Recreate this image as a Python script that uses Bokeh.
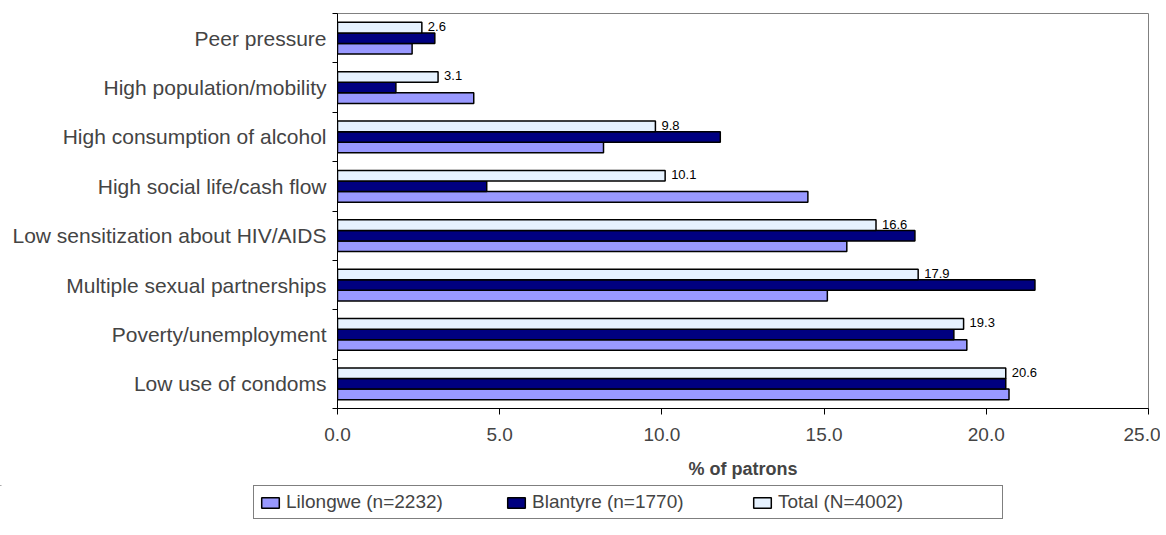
import numpy as np
from bokeh.plotting import figure
from bokeh.layouts import column
from bokeh.models import ColumnDataSource, FixedTicker, NumeralTickFormatter, Range1d, Legend, LegendItem
from bokeh.core.properties import value
from bokeh.embed import file_html
from bokeh.resources import INLINE

# Categories from bottom to top
categories = [
    "Low use of condoms",
    "Poverty/unemployment",
    "Multiple sexual partnerships",
    "Low sensitization about HIV/AIDS",
    "High social life/cash flow",
    "High consumption of alcohol",
    "High population/mobility",
    "Peer pressure",
]
lilongwe = [20.7, 19.4, 15.1, 15.7, 14.5, 8.2, 4.2, 2.3]
blantyre = [20.6, 19.0, 21.5, 17.8, 4.6, 11.8, 1.8, 3.0]
total = [20.6, 19.3, 17.9, 16.6, 10.1, 9.8, 3.1, 2.6]
series_names = ["Lilongwe (n=2232)", "Blantyre (n=1770)", "Total (N=4002)"]
x_ticks = [0, 5, 10, 15, 20, 25]

FONT = "Liberation Sans"
colors = ["#9999FF", "#000080", "#E6F2FF"]

n = len(categories)
centers = np.arange(n) + 0.5
bar_h = 0.215
offsets = [-bar_h, 0.0, bar_h]

p = figure(width=1160, height=485, output_backend="svg", toolbar_location=None,
           x_range=Range1d(0, 25), y_range=Range1d(0, n),
           min_border_left=337, min_border_right=12, min_border_top=13, min_border_bottom=77)
p.frame_align = False
p.xgrid.visible = False
p.ygrid.visible = False
p.outline_line_color = "#808080"
p.background_fill_color = "white"
p.border_fill_color = "white"

for vals, off, col in zip([lilongwe, blantyre, total], offsets, colors):
    src = ColumnDataSource(dict(y=centers + off, right=vals))
    p.hbar(y="y", left=0, right="right", height=bar_h, source=src,
           fill_color=col, line_color="black", line_width=1.5)

# value labels for Total
lab_src = ColumnDataSource(dict(x=total, y=centers + offsets[2], t=[f"{v:.1f}" for v in total]))
p.text(x="x", y="y", text="t", source=lab_src, x_offset=6, y_offset=-1,
       text_font=value(FONT), text_font_size="13px", text_baseline="middle",
       text_align="left", text_color="black")

# x axis
xa = p.xaxis[0]
xa.ticker = FixedTicker(ticks=x_ticks, minor_ticks=[])
xa.formatter = NumeralTickFormatter(format="0.0")
xa.axis_label = "% of patrons"
xa.axis_label_text_font = FONT
xa.axis_label_text_font_style = "bold"
xa.axis_label_text_font_size = "18px"
xa.axis_label_standoff = 15
xa.major_label_text_font = FONT
xa.major_label_text_font_size = "19px"
xa.major_label_standoff = 13
xa.major_tick_out = 6
xa.major_tick_in = 0
xa.minor_tick_out = 0
xa.axis_line_color = "black"
xa.major_tick_line_color = "black"

# y axis: labels at centers, ticks at boundaries
ya = p.yaxis[0]
ya.ticker = FixedTicker(ticks=list(centers), minor_ticks=list(np.arange(n + 1)))
ya.major_label_overrides = {float(c): name for c, name in zip(centers, categories)}
ya.major_tick_out = 0
ya.major_tick_in = 0
ya.minor_tick_out = 5
ya.minor_tick_in = 0
ya.minor_tick_line_color = "black"
ya.axis_line_color = "black"
ya.major_label_text_font = FONT
ya.major_label_text_font_size = "21px"
ya.major_label_standoff = 6

# legend strip (separate figure so the legend can sit left of the plot frame)
p2 = figure(width=1160, height=48, output_backend="svg", toolbar_location=None,
            x_range=Range1d(0, 1), y_range=Range1d(0, 1),
            x_axis_type=None, y_axis_type=None, min_border=0)
p2.frame_align = False
p2.xgrid.visible = False
p2.ygrid.visible = False
p2.outline_line_color = None
p2.border_fill_color = "white"
leg_renderers = []
for col in colors:
    r = p2.hbar(y=[5], left=[0], right=[0], height=0.1, fill_color=col,
                line_color="black", line_width=1.5)
    leg_renderers.append(r)

legend = Legend(items=[LegendItem(label=nm, renderers=[r]) for nm, r in zip(series_names, leg_renderers)],
                orientation="horizontal", location=(253, 14),
                label_text_font=FONT, label_text_font_size="19px",
                glyph_width=22, glyph_height=13, label_standoff=5,
                label_width=219, label_height=18, spacing=0, padding=5,
                border_line_color="black", border_line_width=1,
                background_fill_alpha=1.0, margin=0)
p2.add_layout(legend, "center")

layout = column(p, p2, spacing=0)
open("out.html", "w").write(file_html(layout, INLINE))
